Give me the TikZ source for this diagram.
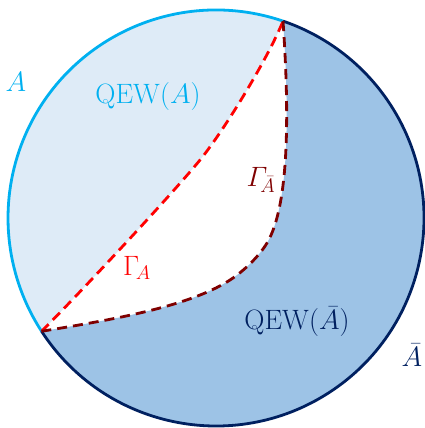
\RequirePackage{fix-cm}
\documentclass[tikz,border=0pt]{standalone}
\usepackage{amsmath}
\usetikzlibrary{calc}
\definecolor{acyan}{HTML}{00B0F0}
\definecolor{anavy}{HTML}{002060}
\definecolor{qewlight}{HTML}{DEEBF7}
\definecolor{qewdark}{HTML}{9DC3E6}
\definecolor{gred}{HTML}{FF0000}
\definecolor{gdred}{HTML}{7F0000}

\begin{document}
\begin{tikzpicture}[
  x=1pt, y=1pt,
  bnd/.style={line width=2.8pt},
  geo/.style={line width=2.8pt, dash pattern=on 10pt off 6pt},
  lab/.style={font=\fontsize{28}{32}\selectfont, inner sep=0pt}]
\useasboundingbox (0,0) rectangle (425,428);
\coordinate (O) at (216,210);
\coordinate (P) at ($(O)+(71.2:208)$);
\coordinate (Q) at ($(O)+(213:208)$);
\coordinate (J) at (200,268);
\coordinate (M) at (267,185);
\coordinate (N) at (233,150);
% wedges
\fill[qewlight] (P) arc[start angle=71.2, end angle=213, radius=208]
  .. controls (80.9,135.9) and (174.8,236.9) .. (J)
  .. controls (225.2,299.1) and (268,369.9) .. (P) -- cycle;
\fill[qewdark] (Q) arc[start angle=213, end angle=431.2, radius=208]
  .. controls (289,320) and (290,223.6) .. (M)
  .. controls (259.3,172.1) and (245.3,158.6) .. (N)
  .. controls (192,121.4) and (111.1,108.2) .. (Q) -- cycle;
% boundary
\draw[bnd, acyan] (P) arc[start angle=71.2, end angle=213, radius=208];
\draw[bnd, anavy] (Q) arc[start angle=213, end angle=431.2, radius=208];
% surfaces
\draw[geo, gred] (Q) .. controls (80.9,135.9) and (174.8,236.9) .. (J)
  .. controls (225.2,299.1) and (268,369.9) .. (P);
\draw[geo, gdred] (P) .. controls (289,320) and (290,223.6) .. (M)
  .. controls (259.3,172.1) and (245.3,158.6) .. (N)
  .. controls (192,121.4) and (111.1,108.2) .. (Q);
% labels
\node[lab, text=acyan] (lA) at (16,346) {$A$};
\node[lab, text=acyan] (qA) at (148,331) {$\mathrm{QEW}(A)$};
\node[lab, text=gred] (gA) at (137,160) {$\Gamma_{\!A}$};
\node[lab, text=gdred] (gB) at (261,248) {$\varGamma_{\!\bar A}$};
\node[lab, text=anavy] (qB) at (297,106) {$\mathrm{QEW}(\bar A)$};
\node[lab, text=anavy] (lB) at (412,73) {$\bar A$};
\end{tikzpicture}
\end{document}
